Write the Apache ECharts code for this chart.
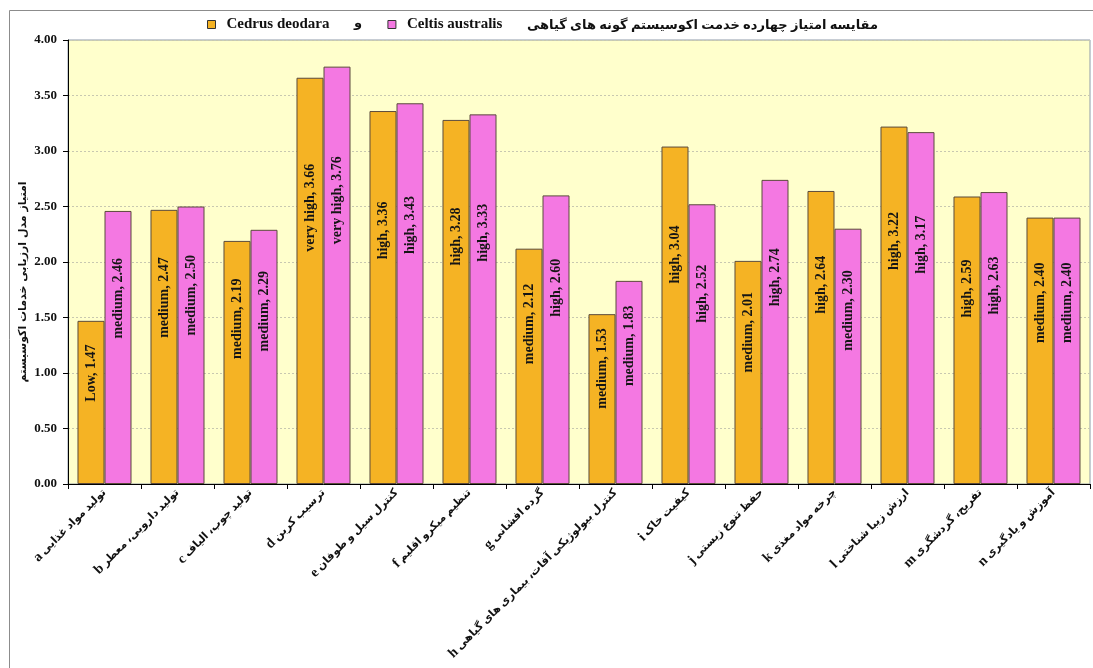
<!DOCTYPE html>
<html>
<head>
<meta charset="utf-8">
<script src="https://cdn.jsdelivr.net/npm/echarts@6/dist/echarts.min.js"></script>
<style>
html, body { margin: 0; padding: 0; background: #ffffff; }
#chart { width: 1093px; height: 668px; }
</style>
</head>
<body>
<div id="chart"></div>
<script>
// service codes and their persian names (x axis)
const serviceCodes = ['a', 'b', 'c', 'd', 'e', 'f', 'g', 'h', 'i', 'j', 'k', 'l', 'm', 'n'];
const serviceNames = [
  'تولید مواد غذایی',
  'تولید دارویی، معطر',
  'تولید چوب، الیاف',
  'ترسیب کربن',
  'کنترل سیل و طوفان',
  'تنظیم میکرو اقلیم',
  'گرده افشانی',
  'کنترل بیولوژیکی آفات، بیماری های گیاهی',
  'کیفیت خاک',
  'حفظ تنوع زیستی',
  'چرخه مواد مغذی',
  'ارزش زیبا شناختی',
  'تفریح، گردشگری',
  'آموزش و یادگیری'
];

const cedrusValues = [1.47, 2.47, 2.19, 3.66, 3.36, 3.28, 2.12, 1.53, 3.04, 2.01, 2.64, 3.22, 2.59, 2.40];
const celtisValues = [2.46, 2.50, 2.29, 3.76, 3.43, 3.33, 2.60, 1.83, 2.52, 2.74, 2.30, 3.17, 2.63, 2.40];

const cedrusLevels = ['Low', 'medium', 'medium', 'very high', 'high', 'high', 'medium', 'medium', 'high', 'medium', 'high', 'high', 'high', 'medium'];
const celtisLevels = ['medium', 'medium', 'medium', 'very high', 'high', 'high', 'high', 'medium', 'high', 'high', 'medium', 'high', 'high', 'medium'];

const chartTitle = 'مقایسه امتیاز چهارده خدمت اکوسیستم گونه های گیاهی';
const yAxisName = 'امتیاز مدل ارزیابی خدمات اکوسیستم';

const serif = "'Liberation Serif', 'DejaVu Serif', 'DejaVu Sans', serif";
const persian = "'Liberation Serif', 'DejaVu Sans', sans-serif";

function barLabel(levels) {
  return {
    show: true,
    position: ['50%', '32%'],
    rotate: 90,
    align: 'center',
    verticalAlign: 'middle',
    fontFamily: serif,
    fontWeight: 'bold',
    fontSize: 14,
    color: '#151515',
    formatter: p => levels[p.dataIndex] + ', ' + p.value.toFixed(2)
  };
}

const myChart = echarts.init(document.getElementById('chart'));
myChart.setOption({
  animation: false,
  backgroundColor: '#ffffff',
  title: {
    text: chartTitle,
    right: 215,
    top: 19,
    padding: 0,
    textStyle: { fontFamily: persian, fontWeight: 'bold', fontSize: 13, color: '#111' }
  },
  legend: {
    left: 207,
    top: 17,
    padding: 0,
    icon: 'rect',
    itemWidth: 8,
    itemHeight: 8,
    itemGap: 58,
    itemStyle: { borderColor: '#333', borderWidth: 1 },
    textStyle: { fontFamily: serif, fontWeight: 'bold', fontSize: 15, color: '#111', padding: [0, 0, 0, 6] },
    data: ['Cedrus deodara', 'Celtis australis']
  },
  graphic: [
    {
      type: 'rect',
      z: -1,
      shape: { x: 9.5, y: 10.5, width: 1200, height: 800 },
      style: { fill: 'none', stroke: '#8c8c8c', lineWidth: 1 }
    },
    {
      type: 'text',
      left: 354,
      top: 17,
      style: { text: 'و', font: "bold 13px 'DejaVu Sans'", fill: '#111' }
    },
    {
      type: 'text',
      x: 23,
      y: 282,
      rotation: Math.PI / 2,
      style: {
        text: yAxisName,
        font: "bold 11px 'DejaVu Sans'",
        fill: '#111',
        align: 'center',
        verticalAlign: 'middle'
      }
    }
  ],
  grid: {
    left: 68,
    right: 3,
    top: 40,
    bottom: 184,
    show: true,
    backgroundColor: '#ffffcc',
    borderColor: '#8e9aa8',
    borderWidth: 1
  },
  xAxis: {
    type: 'category',
    data: serviceNames,
    axisLine: { lineStyle: { color: '#000', width: 1 } },
    axisTick: { show: true, length: 5, lineStyle: { color: '#000' } },
    axisLabel: {
      interval: 0,
      rotate: 45,
      margin: 7,
      fontFamily: persian,
      fontWeight: 'bold',
      fontSize: 11,
      color: '#111',
      formatter: (v, i) => '{c|' + serviceCodes[i] + '} ' + v,
      rich: {
        c: { fontFamily: serif, fontWeight: 'bold', fontSize: 14, color: '#111' }
      }
    }
  },
  yAxis: {
    type: 'value',
    min: 0,
    max: 4,
    interval: 0.5,
    axisLine: { show: true, lineStyle: { color: '#000', width: 1 } },
    axisTick: { show: true, length: 5, lineStyle: { color: '#000' } },
    axisLabel: {
      margin: 11,
      fontFamily: serif,
      fontWeight: 'bold',
      fontSize: 13,
      color: '#111',
      formatter: v => v.toFixed(2)
    },
    splitLine: { lineStyle: { color: '#c8c8b0', type: [2, 2], width: 1 } }
  },
  series: [
    {
      name: 'Cedrus deodara',
      type: 'bar',
      data: cedrusValues,
      barGap: '0%',
      barCategoryGap: '26%',
      itemStyle: { color: '#f5b324', borderColor: '#5b4a3c', borderWidth: 1 },
      label: barLabel(cedrusLevels)
    },
    {
      name: 'Celtis australis',
      type: 'bar',
      data: celtisValues,
      barGap: '0%',
      barCategoryGap: '26%',
      itemStyle: { color: '#f478e2', borderColor: '#5b4a3c', borderWidth: 1 },
      label: barLabel(celtisLevels)
    }
  ]
});
</script>
</body>
</html>
